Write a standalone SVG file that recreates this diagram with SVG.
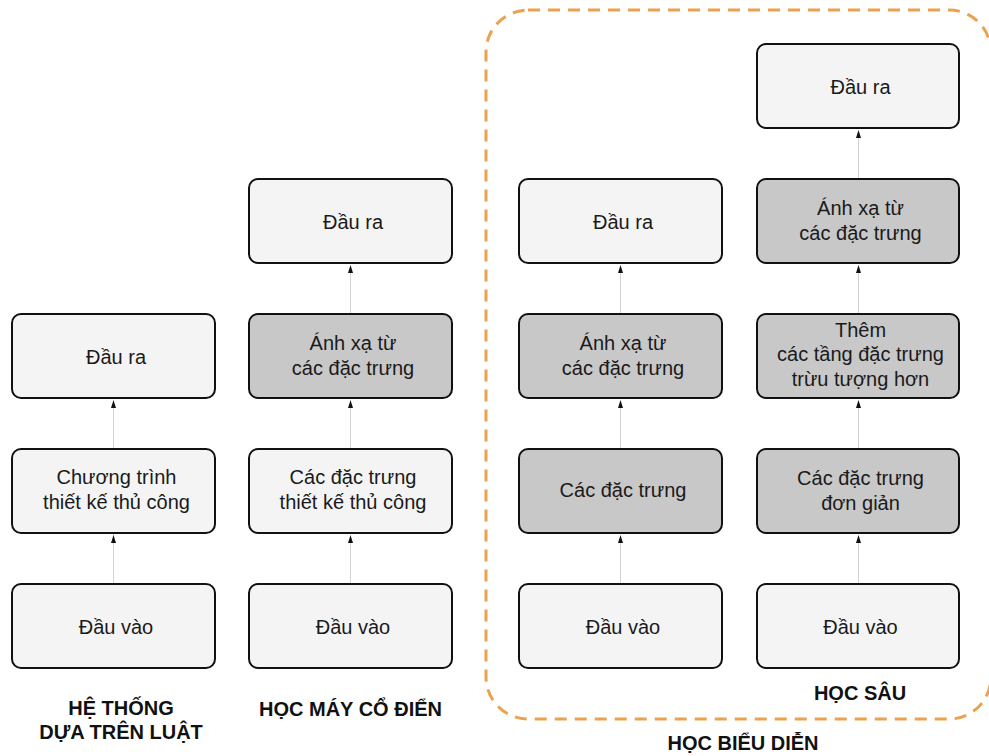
<svg xmlns="http://www.w3.org/2000/svg" width="989" height="756" viewBox="0 0 989 756">
<defs>
<style>
.box{fill:#f4f4f4;stroke:#111;stroke-width:2}
.dark{fill:#c8c8c8;stroke:#111;stroke-width:2}
.t{font-family:"Liberation Sans",Arial,sans-serif;font-size:20px;fill:#1a1a1a;text-anchor:middle}
.h{font-family:"Liberation Sans",Arial,sans-serif;font-size:20px;font-weight:bold;fill:#111;text-anchor:middle}
#connectors line{stroke:#d2d2d2;stroke-width:1;fill:none}
</style>
</defs>
<rect id="group-representation" x="486" y="10" width="505" height="709" rx="42" fill="none" stroke="#eba24e" stroke-width="3" stroke-dasharray="12 8"/>
<g id="connectors">
<line x1="113.5" y1="584" x2="113.5" y2="404"/>
<line x1="113.5" y1="449" x2="113.5" y2="404"/>
<line x1="350.5" y1="584" x2="350.5" y2="539"/>
<line x1="350.5" y1="449" x2="350.5" y2="404"/>
<line x1="350.5" y1="314" x2="350.5" y2="269"/>
<line x1="620.5" y1="584" x2="620.5" y2="539"/>
<line x1="620.5" y1="449" x2="620.5" y2="404"/>
<line x1="620.5" y1="314" x2="620.5" y2="269"/>
<line x1="858.5" y1="584" x2="858.5" y2="539"/>
<line x1="858.5" y1="449" x2="858.5" y2="404"/>
<line x1="858.5" y1="314" x2="858.5" y2="269"/>
<line x1="858.5" y1="179" x2="858.5" y2="134"/>
<g fill="#111">
<path d="M113.5,400 L111,408 L116,408 Z"/>
<path d="M113.5,535 L111,543 L116,543 Z"/>
<path d="M350.5,265 L348,273 L353,273 Z"/>
<path d="M350.5,400 L348,408 L353,408 Z"/>
<path d="M350.5,535 L348,543 L353,543 Z"/>
<path d="M620.5,265 L618,273 L623,273 Z"/>
<path d="M620.5,400 L618,408 L623,408 Z"/>
<path d="M620.5,535 L618,543 L623,543 Z"/>
<path d="M858.5,130 L856,138 L861,138 Z"/>
<path d="M858.5,265 L856,273 L861,273 Z"/>
<path d="M858.5,400 L856,408 L861,408 Z"/>
<path d="M858.5,535 L856,543 L861,543 Z"/>
</g>
</g>
<g id="r-out"><rect class="box" x="12" y="314" width="203" height="84" rx="9"/><text class="t" x="116" y="364">Đầu ra</text></g>
<g id="r-prog"><rect class="box" x="12" y="449" width="203" height="84" rx="9"/><text class="t" x="116.5" y="484">Chương trình</text><text class="t" x="116.5" y="509">thiết kế thủ công</text></g>
<g id="r-in"><rect class="box" x="12" y="584" width="203" height="84" rx="9"/><text class="t" x="116" y="634">Đầu vào</text></g>
<g id="c-out"><rect class="box" x="249" y="179" width="203" height="84" rx="9"/><text class="t" x="353" y="229">Đầu ra</text></g>
<g id="c-map"><rect class="dark" x="249" y="314" width="203" height="84" rx="9"/><text class="t" x="353" y="350">Ánh xạ từ</text><text class="t" x="353" y="375">các đặc trưng</text></g>
<g id="c-feat"><rect class="box" x="249" y="449" width="203" height="84" rx="9"/><text class="t" x="353" y="484">Các đặc trưng</text><text class="t" x="353" y="509">thiết kế thủ công</text></g>
<g id="c-in"><rect class="box" x="249" y="584" width="203" height="84" rx="9"/><text class="t" x="353" y="634">Đầu vào</text></g>
<g id="b-out"><rect class="box" x="519" y="179" width="203" height="84" rx="9"/><text class="t" x="623" y="229">Đầu ra</text></g>
<g id="b-map"><rect class="dark" x="519" y="314" width="203" height="84" rx="9"/><text class="t" x="623" y="350">Ánh xạ từ</text><text class="t" x="623" y="375">các đặc trưng</text></g>
<g id="b-feat"><rect class="dark" x="519" y="449" width="203" height="84" rx="9"/><text class="t" x="623" y="497">Các đặc trưng</text></g>
<g id="b-in"><rect class="box" x="519" y="584" width="203" height="84" rx="9"/><text class="t" x="623" y="634">Đầu vào</text></g>
<g id="d-out"><rect class="box" x="757" y="44" width="202" height="84" rx="9"/><text class="t" x="860.5" y="94">Đầu ra</text></g>
<g id="d-map"><rect class="dark" x="757" y="179" width="202" height="84" rx="9"/><text class="t" x="860.5" y="215">Ánh xạ từ</text><text class="t" x="860.5" y="240">các đặc trưng</text></g>
<g id="d-layers"><rect class="dark" x="757" y="314" width="202" height="84" rx="9"/><text class="t" x="860.5" y="337">Thêm</text><text class="t" x="860.5" y="361">các tầng đặc trưng</text><text class="t" x="860.5" y="386">trừu tượng hơn</text></g>
<g id="d-simple"><rect class="dark" x="757" y="449" width="202" height="84" rx="9"/><text class="t" x="860.5" y="485">Các đặc trưng</text><text class="t" x="860.5" y="510">đơn giản</text></g>
<g id="d-in"><rect class="box" x="757" y="584" width="202" height="84" rx="9"/><text class="t" x="860.5" y="634">Đầu vào</text></g>
<g id="labels">
<text class="h" x="121" y="715">HỆ THỐNG</text>
<text class="h" x="121" y="739">DỰA TRÊN LUẬT</text>
<text class="h" x="350.5" y="716">HỌC MÁY CỔ ĐIỂN</text>
<text class="h" x="860" y="700">HỌC SÂU</text>
<text class="h" x="743" y="750">HỌC BIỂU DIỄN</text>
</g>
</svg>
